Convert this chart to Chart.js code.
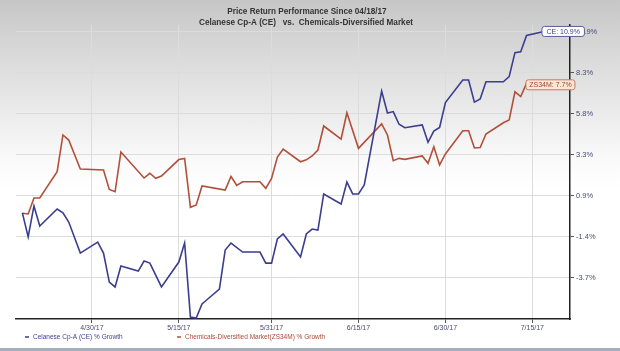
<!DOCTYPE html>
<html><head><meta charset="utf-8">
<script src="https://cdn.jsdelivr.net/npm/chart.js@4/dist/chart.umd.min.js"></script>
<style>
html,body{margin:0;padding:0;}
body{width:620px;height:351px;overflow:hidden;position:relative;
background:linear-gradient(to bottom,#c6c6c6 0px,#d8d8d8 50px,#eaeaea 110px,#fafafa 160px,#ffffff 190px,#ffffff 100%);}
#wrap{position:absolute;left:0;top:0;width:620px;height:351px;}
#band{position:absolute;left:0;bottom:0;width:620px;height:3px;background:#a6b0bc;}
</style></head><body>
<div id="wrap"><canvas id="c" width="620" height="351"></canvas></div>
<div id="band"></div>
<script>
// ---- data (day offsets counted from 04/18/17) ----
const titleLines = ['Price Return Performance Since 04/18/17', 'Celanese Cp-A (CE)   vs.  Chemicals-Diversified Market'];
const legendLabels = ['Celanese Cp-A (CE) % Growth', 'Chemicals-Diversified Market(ZS34M) % Growth'];
const endLabels = ['CE: 10.9%', 'ZS34M: 7.7%'];

const ceDays = [0,1,2,3,6,7,8,10,13,14,15,16,17,20,21,22,24,27,28,29,30,31,32,34,35,36,38,41,42,43,44,45,48,49,50,51,52,55,56,57,58,59,62,63,64,65,66,69,70,71,72,73,76,77,78,79,80,83,84,85,86,87,90];
const ceVals = [0.14,-1.28,0.55,-0.63,0.37,0.14,-0.40,-2.23,-1.58,-2.23,-3.94,-4.23,-2.99,-3.29,-2.70,-2.82,-4.23,-2.76,-1.64,-6.00,-6.06,-5.23,-4.94,-4.35,-2.05,-1.64,-2.17,-2.17,-2.82,-2.82,-1.40,-1.10,-2.46,-1.10,-0.81,-0.87,1.26,0.67,1.96,1.26,1.26,1.79,7.33,6.04,6.12,5.37,5.17,5.33,4.31,4.97,5.18,6.65,7.98,7.98,6.68,6.86,7.88,7.88,8.18,9.60,9.65,10.61,10.85];

const mktDays = [0,1,2,3,6,7,8,10,14,15,16,17,21,22,23,24,27,28,29,30,31,35,36,37,38,41,42,43,44,45,48,49,50,51,52,55,56,58,62,63,64,65,66,69,70,71,72,73,76,77,78,79,80,83,84,85,86,87,90];
const mktVals = [0.12,0.08,1.02,1.02,2.57,4.74,4.44,2.73,2.67,1.53,1.39,3.73,2.20,2.48,2.18,2.32,3.29,3.36,0.47,0.61,1.73,1.49,2.29,1.76,1.98,1.98,1.59,2.18,3.44,3.90,3.16,3.27,3.50,3.85,5.27,4.50,6.05,3.95,5.39,4.74,3.22,3.36,3.30,3.50,3.07,4.05,2.97,3.62,4.99,4.99,3.97,4.00,4.80,5.46,5.62,7.29,7.01,7.78,7.70];

const xTickDays = [12,27,43,58,73,88];
const xTickLabels = ['4/30/17','5/15/17','5/31/17','6/15/17','6/30/17','7/15/17'];
const yTickVals = [-3.7,-1.28,1.14,3.56,5.98,8.40,10.82];
const yTickLabels = ['-3.7%','-1.4%','0.9%','3.3%','5.8%','8.3%','10.9%'];

const BLUE = '#3b3e8e', RED = '#b0503b';
const FONT = '"Liberation Sans", Arial, sans-serif';

function pts(days, vals){ return days.map((d,i)=>({x:d, y:vals[i]})); }

function roundRect(ctx,x,y,w,h,r){
  ctx.beginPath();
  ctx.moveTo(x+r,y); ctx.lineTo(x+w-r,y); ctx.quadraticCurveTo(x+w,y,x+w,y+r);
  ctx.lineTo(x+w,y+h-r); ctx.quadraticCurveTo(x+w,y+h,x+w-r,y+h);
  ctx.lineTo(x+r,y+h); ctx.quadraticCurveTo(x,y+h,x,y+h-r);
  ctx.lineTo(x,y+r); ctx.quadraticCurveTo(x,y,x+r,y); ctx.closePath();
}

const overlay = {
  id:'overlay',
  afterDraw(chart){
    const ctx = chart.ctx, xs = chart.scales.x, ys = chart.scales.y;
    ctx.save();
    // title
    ctx.fillStyle = '#333';
    ctx.font = 'bold 8.2px ' + FONT;
    ctx.textAlign = 'center'; ctx.textBaseline = 'middle';
    ctx.fillText(titleLines[0], 307, 12);
    ctx.fillText(titleLines[1], 306, 22.5);
    // legend
    ctx.font = '6.5px ' + FONT; ctx.textAlign = 'left';
    const lg = [[25, BLUE, legendLabels[0], '#3b3e8e'], [177, RED, legendLabels[1], '#a84a35']];
    lg.forEach(([x,c,t,tc])=>{
      ctx.strokeStyle = c; ctx.lineWidth = 1.5;
      ctx.beginPath(); ctx.moveTo(x, 337); ctx.lineTo(x+4, 337); ctx.stroke();
      ctx.fillStyle = tc; ctx.fillText(t, x+8, 337.5);
    });
    // end labels
    ctx.font = '7px ' + FONT; ctx.textAlign = 'center';
    const ceX = xs.getPixelForValue(ceDays[ceDays.length-1]);
    const ceY = ys.getPixelForValue(ceVals[ceVals.length-1]);
    let w = 42.5, h = 10, x0 = ceX - 2;
    roundRect(ctx, x0, ceY-h/2, w, h, 2.5);
    ctx.fillStyle = '#ffffff'; ctx.fill();
    ctx.strokeStyle = '#5a5e98'; ctx.lineWidth = 1; ctx.stroke();
    ctx.fillStyle = '#3b3e8e'; ctx.fillText(endLabels[0], x0 + w/2, ceY + 0.5);

    const mX = xs.getPixelForValue(mktDays[mktDays.length-1]);
    const mY = ys.getPixelForValue(mktVals[mktVals.length-1]);
    w = 49; x0 = mX + 31 - w;
    roundRect(ctx, x0, mY-h/2, w, h, 2.5);
    ctx.fillStyle = '#fbe6d6'; ctx.fill();
    ctx.strokeStyle = '#c27a5c'; ctx.lineWidth = 1; ctx.stroke();
    ctx.fillStyle = '#9a4630'; ctx.fillText(endLabels[1], x0 + w/2, mY + 0.5);
    ctx.restore();
  }
};

new Chart(document.getElementById('c'), {
  type:'line',
  data:{ datasets:[
    { label:legendLabels[0], data:pts(ceDays, ceVals), borderColor:BLUE, borderWidth:1.6, pointRadius:0, tension:0, fill:false },
    { label:legendLabels[1], data:pts(mktDays, mktVals), borderColor:RED, borderWidth:1.6, pointRadius:0, tension:0, fill:false }
  ]},
  options:{
    responsive:false, animation:false, events:[],
    layout:{ padding:{ top:25, left:16, right:0, bottom:19 } },
    plugins:{ legend:{display:false}, tooltip:{enabled:false}, title:{display:false} },
    scales:{
      x:{
        type:'linear', min:-1.1, max:94.5,
        afterBuildTicks:s=>{ s.ticks = xTickDays.map(v=>({value:v})); },
        afterFit:s=>{ s.height = 13; },
        grid:{ color:'#dcdcdc', lineWidth:1, tickLength:4, tickColor:'#555' },
        border:{ display:true, color:'#222', width:1.5 },
        ticks:{ autoSkip:false, maxRotation:0, padding:1, color:'#4a4a6e',
          font:{ size:7, family:FONT },
          callback:(v)=>{ const i = xTickDays.indexOf(v); return i>=0 ? xTickLabels[i] : ''; } }
      },
      y:{
        type:'linear', position:'right', min:-6.12, max:11.23,
        afterBuildTicks:s=>{ s.ticks = yTickVals.map(v=>({value:v})); },
        afterFit:s=>{ s.width = 50; },
        grid:{ color:'#dcdcdc', lineWidth:1, tickLength:4, tickColor:'#555' },
        border:{ display:true, color:'#222', width:1.5 },
        ticks:{ autoSkip:false, padding:2, color:'#4a4a78',
          font:{ size:7.5, family:FONT },
          callback:(v)=>{ const i = yTickVals.indexOf(v); return i>=0 ? yTickLabels[i] : ''; } }
      }
    }
  },
  plugins:[overlay]
});
</script>
</body></html>
